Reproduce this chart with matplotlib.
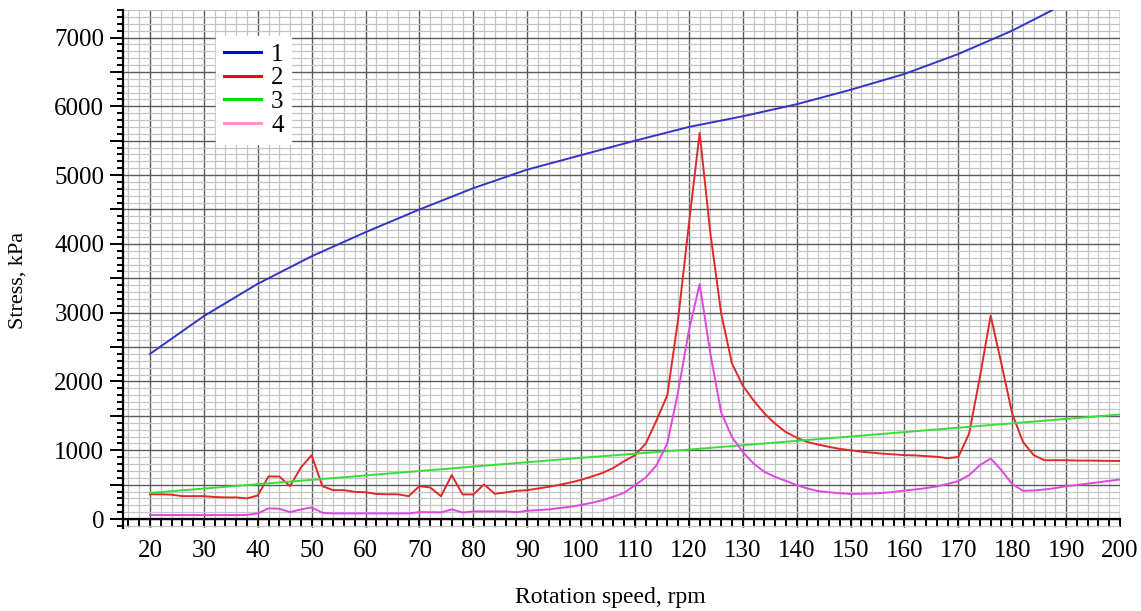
import matplotlib
matplotlib.use("Agg")
import matplotlib.pyplot as plt
from matplotlib.ticker import MultipleLocator, FuncFormatter
from matplotlib.lines import Line2D

# ---- data ----
rpm_blue = [20, 30, 40, 50, 60, 70, 80, 90, 100, 110, 120, 130, 140, 150, 160, 170, 180, 190]
stress_1 = [2400, 2950, 3420, 3820, 4170, 4500, 4810, 5080, 5290, 5500, 5700, 5855, 6030, 6240,
            6470, 6760, 7100, 7500]

rpm_green = [20, 50, 100, 120, 150, 175, 200]
stress_3 = [380, 570, 890, 1010, 1200, 1360, 1520]

rpm_step = list(range(20, 202, 2))
stress_2 = [360, 360, 355, 333, 333, 333, 320, 315, 315, 300,
            343, 619, 619, 478, 749, 928, 478, 420, 420, 395,
            390, 365, 360, 360, 333, 478, 459, 333, 638, 358,
            358, 503, 367, 387, 410, 420, 444, 469, 498, 531,
            570, 619, 671, 744, 841, 928, 1097, 1435, 1800, 2900,
            4285, 5613, 4150, 2985, 2260, 1940, 1725, 1536, 1387, 1265,
            1184, 1120, 1082, 1050, 1020, 1000, 980, 965, 950, 940,
            930, 925, 915, 905, 885, 903, 1242, 2063, 2957, 2256,
            1531, 1121, 928, 855, 855, 855, 850, 850, 848, 846, 845]
stress_4 = [58, 58, 58, 58, 58, 58, 58, 58, 58, 60,
            82, 155, 150, 101, 140, 169, 91, 82, 82, 82,
            82, 82, 82, 82, 82, 100, 100, 97, 140, 96,
            111, 111, 111, 111, 100, 120, 130, 140, 160, 178,
            205, 236, 275, 324, 382, 493, 604, 783, 1100, 1850,
            2739, 3416, 2400, 1550, 1190, 975, 807, 686, 613, 555,
            493, 445, 406, 390, 375, 365, 368, 372, 380, 395,
            415, 430, 450, 475, 510, 551, 638, 783, 880, 710,
            507, 411, 415, 430, 450, 478, 495, 515, 535, 555, 575]

series_labels = ["1", "2", "3", "4"]
line_colors = ["#3535c5", "#e02a2a", "#3ade3a", "#e048e0"]
legend_colors = ["#0000ff", "#ff0000", "#00e000", "#ff99cc"]

plt.rcParams['font.family'] = ['Liberation Serif', 'DejaVu Serif']

fig = plt.figure(figsize=(11.41, 6.11), dpi=100)
W, H = 1141, 611
ax = fig.add_axes([123 / W, 1 - 528 / H, (1120 - 123) / W, (528 - 10) / H])

ax.set_xlim(15, 200)
ax.set_ylim(-130, 7400)

ax.plot(rpm_blue, stress_1, color=line_colors[0], lw=1.4, zorder=3)
ax.plot(rpm_step, stress_2, color=line_colors[1], lw=1.4, zorder=3)
ax.plot(rpm_green, stress_3, color=line_colors[2], lw=1.4, zorder=3)
ax.plot(rpm_step, stress_4, color=line_colors[3], lw=1.4, zorder=3)

# grid
ax.xaxis.set_major_locator(MultipleLocator(10))
ax.xaxis.set_minor_locator(MultipleLocator(2))
ax.yaxis.set_major_locator(MultipleLocator(500))
ax.yaxis.set_minor_locator(MultipleLocator(100))
ax.grid(which='major', color='#5a5a5a', lw=1.0, zorder=0)
ax.grid(which='minor', color='#c4c4c4', lw=0.9, zorder=0)
ax.set_axisbelow(True)

ax.yaxis.set_major_formatter(FuncFormatter(lambda v, p: f"{int(v)}" if v % 1000 == 0 and v >= 0 else ""))
ax.xaxis.set_major_formatter(FuncFormatter(lambda v, p: f"{int(v)}" if v >= 20 else ""))

for s in ['top', 'right']:
    ax.spines[s].set_visible(False)
ax.spines['bottom'].set_position(('data', 0))
ax.spines['bottom'].set_linewidth(1.6)
ax.spines['left'].set_linewidth(1.6)

ax.tick_params(axis='x', which='both', direction='out', length=6, width=1.4, labelsize=18, pad=9)
ax.tick_params(axis='y', which='major', direction='out', length=9.5, width=1.4, labelsize=18, pad=4)
ax.tick_params(axis='y', which='minor', direction='out', length=4.5, width=1.4)

fig.text(610 / W, 1 - 597 / H, "Rotation speed, rpm", ha='center', va='center', fontsize=17)
fig.text(18 / W, 1 - 280 / H, "Stress, kPa", ha='center', va='center', rotation=90, fontsize=16)

handles = [Line2D([], [], color=c, lw=2.2) for c in legend_colors]
leg = ax.legend(handles, series_labels, loc='upper left',
                bbox_to_anchor=(216 / W, 1 - 36 / H), bbox_transform=fig.transFigure,
                fontsize=18, frameon=True, fancybox=False, edgecolor='white', framealpha=1,
                labelspacing=0.04, handlelength=1.5, handletextpad=0.4, borderpad=0.3,
                borderaxespad=0)
leg.set_zorder(5)

fig.savefig("out.png", dpi=100)
